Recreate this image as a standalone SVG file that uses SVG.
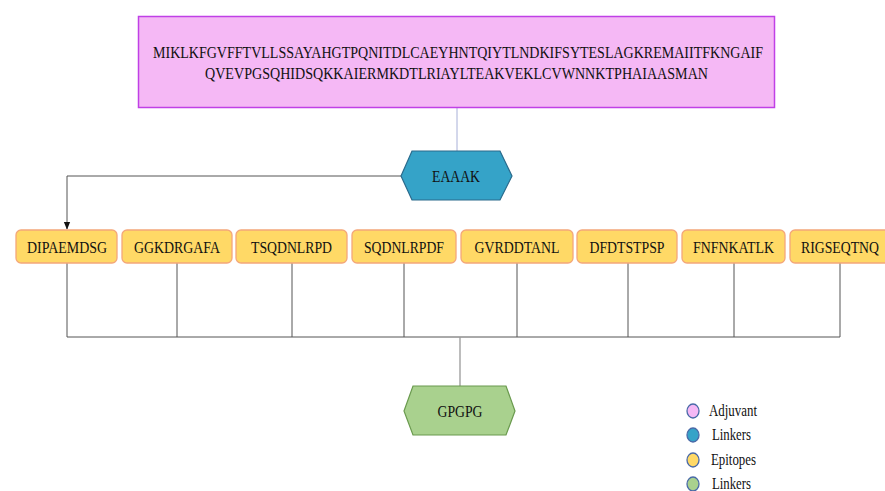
<svg xmlns="http://www.w3.org/2000/svg" width="885" height="491" viewBox="0 0 885 491">
<defs>
<style>
text{font-family:"Liberation Serif","Times New Roman",serif;fill:#111;}
.lbl{font-size:17px;text-anchor:middle;}
.ep{fill:#ffd966;stroke:#f4a77a;stroke-width:1.3;}
.conn{fill:none;stroke:#555;stroke-width:1;}
.leg{font-size:16px;}
.dot{stroke:#4a6aa8;stroke-width:1.3;}
</style>
<marker id="arr" viewBox="0 0 10 10" refX="9" refY="5" markerWidth="8" markerHeight="8" orient="auto">
<path d="M0,1 L10,5 L0,9 Z" fill="#111"/>
</marker>
</defs>
<rect width="885" height="491" fill="#fff"/>
<g id="connectors">
<line x1="457" y1="108" x2="457" y2="151" stroke="#a8b0d8" stroke-width="1"/>
<path class="conn" d="M401,176 H67 V229" marker-end="url(#arr)"/>
<path class="conn" d="M67,263 V337 M177,263 V337 M292,263 V337 M404,263 V337 M517,263 V337 M628,263 V337 M734,263 V337 M840,263 V337 M67,337 H840"/>
<line x1="460" y1="337" x2="460" y2="386" stroke="#999" stroke-width="1.3"/>
</g>
<g id="adjuvant">
<rect x="138.5" y="16.5" width="636" height="91" fill="#f5b8f5" stroke="#c040e6" stroke-width="1.5"/>
<text x="153" y="58" font-size="16.5" textLength="610" lengthAdjust="spacingAndGlyphs">MIKLKFGVFFTVLLSSAYAHGTPQNITDLCAEYHNTQIYTLNDKIFSYTESLAGKREMAIITFKNGAIF</text>
<text x="205" y="78.5" font-size="16.5" textLength="503" lengthAdjust="spacingAndGlyphs">QVEVPGSQHIDSQKKAIERMKDTLRIAYLTEAKVEKLCVWNNKTPHAIAASMAN</text>
</g>
<g id="eaaak">
<polygon points="401,176 412,151 500,151 512,176 500,200 412,200" fill="#35a3c8" stroke="#2a6a8c" stroke-width="1.2"/>
<text class="lbl" x="456" y="182" textLength="48" lengthAdjust="spacingAndGlyphs">EAAAK</text>
</g>
<g id="ep1"><rect class="ep" x="16" y="230" width="101" height="33" rx="5"/><text class="lbl" x="67" y="253" textLength="80" lengthAdjust="spacingAndGlyphs">DIPAEMDSG</text></g>
<g id="ep2"><rect class="ep" x="122" y="230" width="110" height="33" rx="5"/><text class="lbl" x="177" y="253" textLength="86" lengthAdjust="spacingAndGlyphs">GGKDRGAFA</text></g>
<g id="ep3"><rect class="ep" x="236" y="230" width="111" height="33" rx="5"/><text class="lbl" x="291.5" y="253" textLength="81" lengthAdjust="spacingAndGlyphs">TSQDNLRPD</text></g>
<g id="ep4"><rect class="ep" x="352" y="230" width="104" height="33" rx="5"/><text class="lbl" x="404" y="253" textLength="80" lengthAdjust="spacingAndGlyphs">SQDNLRPDF</text></g>
<g id="ep5"><rect class="ep" x="461" y="230" width="112" height="33" rx="5"/><text class="lbl" x="517" y="253" textLength="85" lengthAdjust="spacingAndGlyphs">GVRDDTANL</text></g>
<g id="ep6"><rect class="ep" x="577" y="230" width="100" height="33" rx="5"/><text class="lbl" x="627" y="253" textLength="75" lengthAdjust="spacingAndGlyphs">DFDTSTPSP</text></g>
<g id="ep7"><rect class="ep" x="682" y="230" width="103" height="33" rx="5"/><text class="lbl" x="733.5" y="253" textLength="81" lengthAdjust="spacingAndGlyphs">FNFNKATLK</text></g>
<g id="ep8"><rect class="ep" x="790" y="230" width="100" height="33" rx="5"/><text class="lbl" x="840" y="253" textLength="78" lengthAdjust="spacingAndGlyphs">RIGSEQTNQ</text></g>
<g id="gpgpg">
<polygon points="404,411 413,386 506,386 515,411 506,435 413,435" fill="#a9d18e" stroke="#6a9a4e" stroke-width="1.2"/>
<text class="lbl" x="460" y="417" textLength="45" lengthAdjust="spacingAndGlyphs">GPGPG</text>
</g>
<g id="legend">
<ellipse class="dot" cx="693" cy="411" rx="6" ry="7" fill="#f5b8f5"/>
<text class="leg" x="709" y="416" textLength="48" lengthAdjust="spacingAndGlyphs">Adjuvant</text>
<ellipse class="dot" cx="693" cy="435" rx="6" ry="7" fill="#35a3c8"/>
<text class="leg" x="712" y="440" textLength="39" lengthAdjust="spacingAndGlyphs">Linkers</text>
<ellipse class="dot" cx="693" cy="460" rx="6" ry="7" fill="#ffd966"/>
<text class="leg" x="711" y="465" textLength="45" lengthAdjust="spacingAndGlyphs">Epitopes</text>
<ellipse class="dot" cx="693" cy="484" rx="6" ry="7" fill="#a9d18e"/>
<text class="leg" x="712" y="489" textLength="39" lengthAdjust="spacingAndGlyphs">Linkers</text>
</g>
</svg>
